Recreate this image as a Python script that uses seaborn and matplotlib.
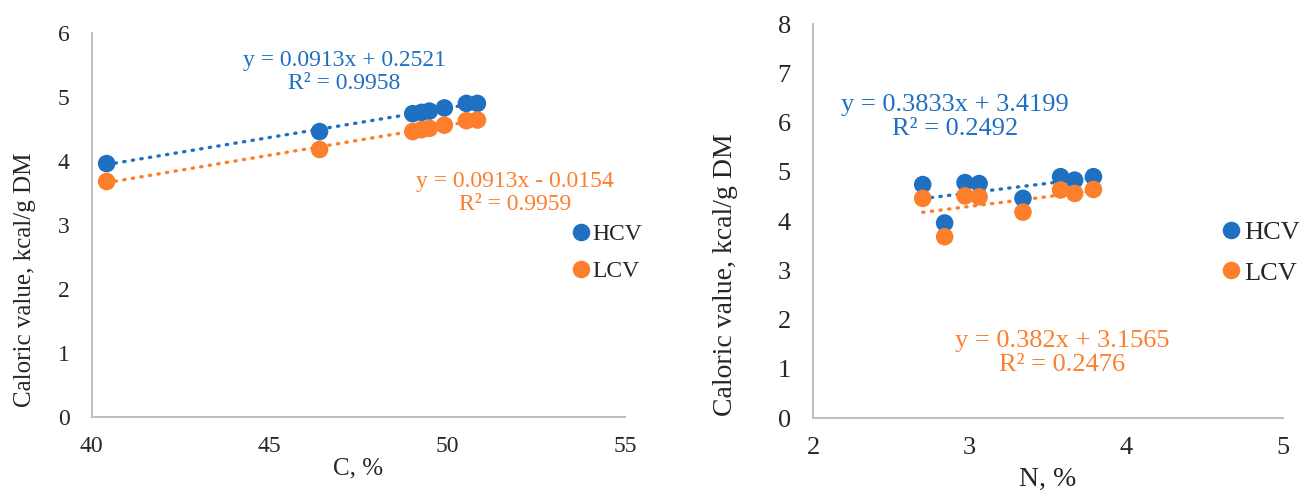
import pandas as pd
import seaborn as sns
import matplotlib.pyplot as plt

# Sample values (one entry per sample)
carbon = [40.42, 46.41, 49.03, 49.28, 49.50, 49.92, 50.54, 50.85]
nitrogen = [2.84, 3.34, 2.70, 3.06, 2.97, 3.67, 3.58, 3.79]
hcv = [3.96, 4.46, 4.74, 4.76, 4.78, 4.83, 4.90, 4.90]
lcv = [3.68, 4.18, 4.46, 4.49, 4.51, 4.56, 4.63, 4.64]

series = ['HCV', 'LCV']
colors = {'HCV': '#1F70C1', 'LCV': '#FD7F2C'}

# Trendline labels as printed on the chart
eq_c = {'HCV': 'y = 0.0913x + 0.2521\nR² = 0.9958',
        'LCV': 'y = 0.0913x - 0.0154\nR² = 0.9959'}
eq_n = {'HCV': 'y = 0.3833x + 3.4199\nR² = 0.2492',
        'LCV': 'y = 0.382x + 3.1565\nR² = 0.2476'}

df = pd.DataFrame({'C': carbon, 'N': nitrogen, 'HCV': hcv, 'LCV': lcv})
df_long = df.melt(id_vars=['C', 'N'], value_vars=series,
                  var_name='kind', value_name='cv')

sns.set_style('white')
plt.rcParams['font.family'] = ['Liberation Serif', 'DejaVu Serif']

fig = plt.figure(figsize=(12.99, 4.92), dpi=100)
ax1 = fig.add_axes([0.0706, 0.1524, 0.4105, 0.7805])
ax2 = fig.add_axes([0.6259, 0.1504, 0.3618, 0.8008])


def draw_panel(ax, xcol, xlim, xticks, ylim, yticks, xlabel, eqs, eq_pos,
               leg_anchor, fs, ylab_xy, xlab_y):
  for kind in series:
    sns.regplot(data=df, x=xcol, y=kind, ax=ax, scatter=False, ci=None,
                truncate=True,
                line_kws={'color': colors[kind], 'lw': 2.4,
                          'linestyle': (0, (0.4, 2.2)),
                          'dash_capstyle': 'round'})
  sns.scatterplot(data=df_long, x=xcol, y='cv', hue='kind', palette=colors,
                  s=160, edgecolor='none', ax=ax, zorder=3)

  for kind in series:
    ax.text(eq_pos[kind][0], eq_pos[kind][1], eqs[kind], color=colors[kind],
            ha='center', va='center', linespacing=1.12, fontsize=fs)

  ax.set_xlim(*xlim)
  ax.set_ylim(*ylim)
  ax.set_xticks(xticks)
  ax.set_yticks(yticks)
  ax.set_xlabel(xlabel, fontsize=fs + 1)
  ax.set_ylabel('Caloric value, kcal/g DM', fontsize=fs + 1)
  ax.yaxis.set_label_coords(*ylab_xy)
  ax.xaxis.set_label_coords(0.5, xlab_y)
  ax.tick_params(length=0, labelsize=fs)
  ax.tick_params(axis='x', pad=14)
  ax.tick_params(axis='y', pad=16)
  sns.despine(ax=ax)
  for side in ['left', 'bottom']:
    ax.spines[side].set_color('#BFBFBF')
    ax.spines[side].set_linewidth(1.5)

  handles, labels = ax.get_legend_handles_labels()
  ax.legend(handles, labels, loc='center left', bbox_to_anchor=leg_anchor,
            frameon=False, handletextpad=0.0, handlelength=1.0,
            labelspacing=0.65, borderaxespad=0, borderpad=0, fontsize=fs)


draw_panel(ax1, 'C', (40, 55), [40, 45, 50, 55], (0, 6), range(0, 7),
           'C, %', eq_c, {'HCV': (47.1, 5.39), 'LCV': (51.9, 3.50)},
           (0.895, 0.428), 17, (-0.104, 0.357), -0.105)
draw_panel(ax2, 'N', (2, 5), [2, 3, 4, 5], (0, 8), range(0, 9),
           'N, %', eq_n, {'HCV': (2.906, 6.12), 'LCV': (3.59, 1.32)},
           (0.862, 0.42), 19, (-0.16, 0.365), -0.125)

fig.savefig('out.png', dpi=100)
